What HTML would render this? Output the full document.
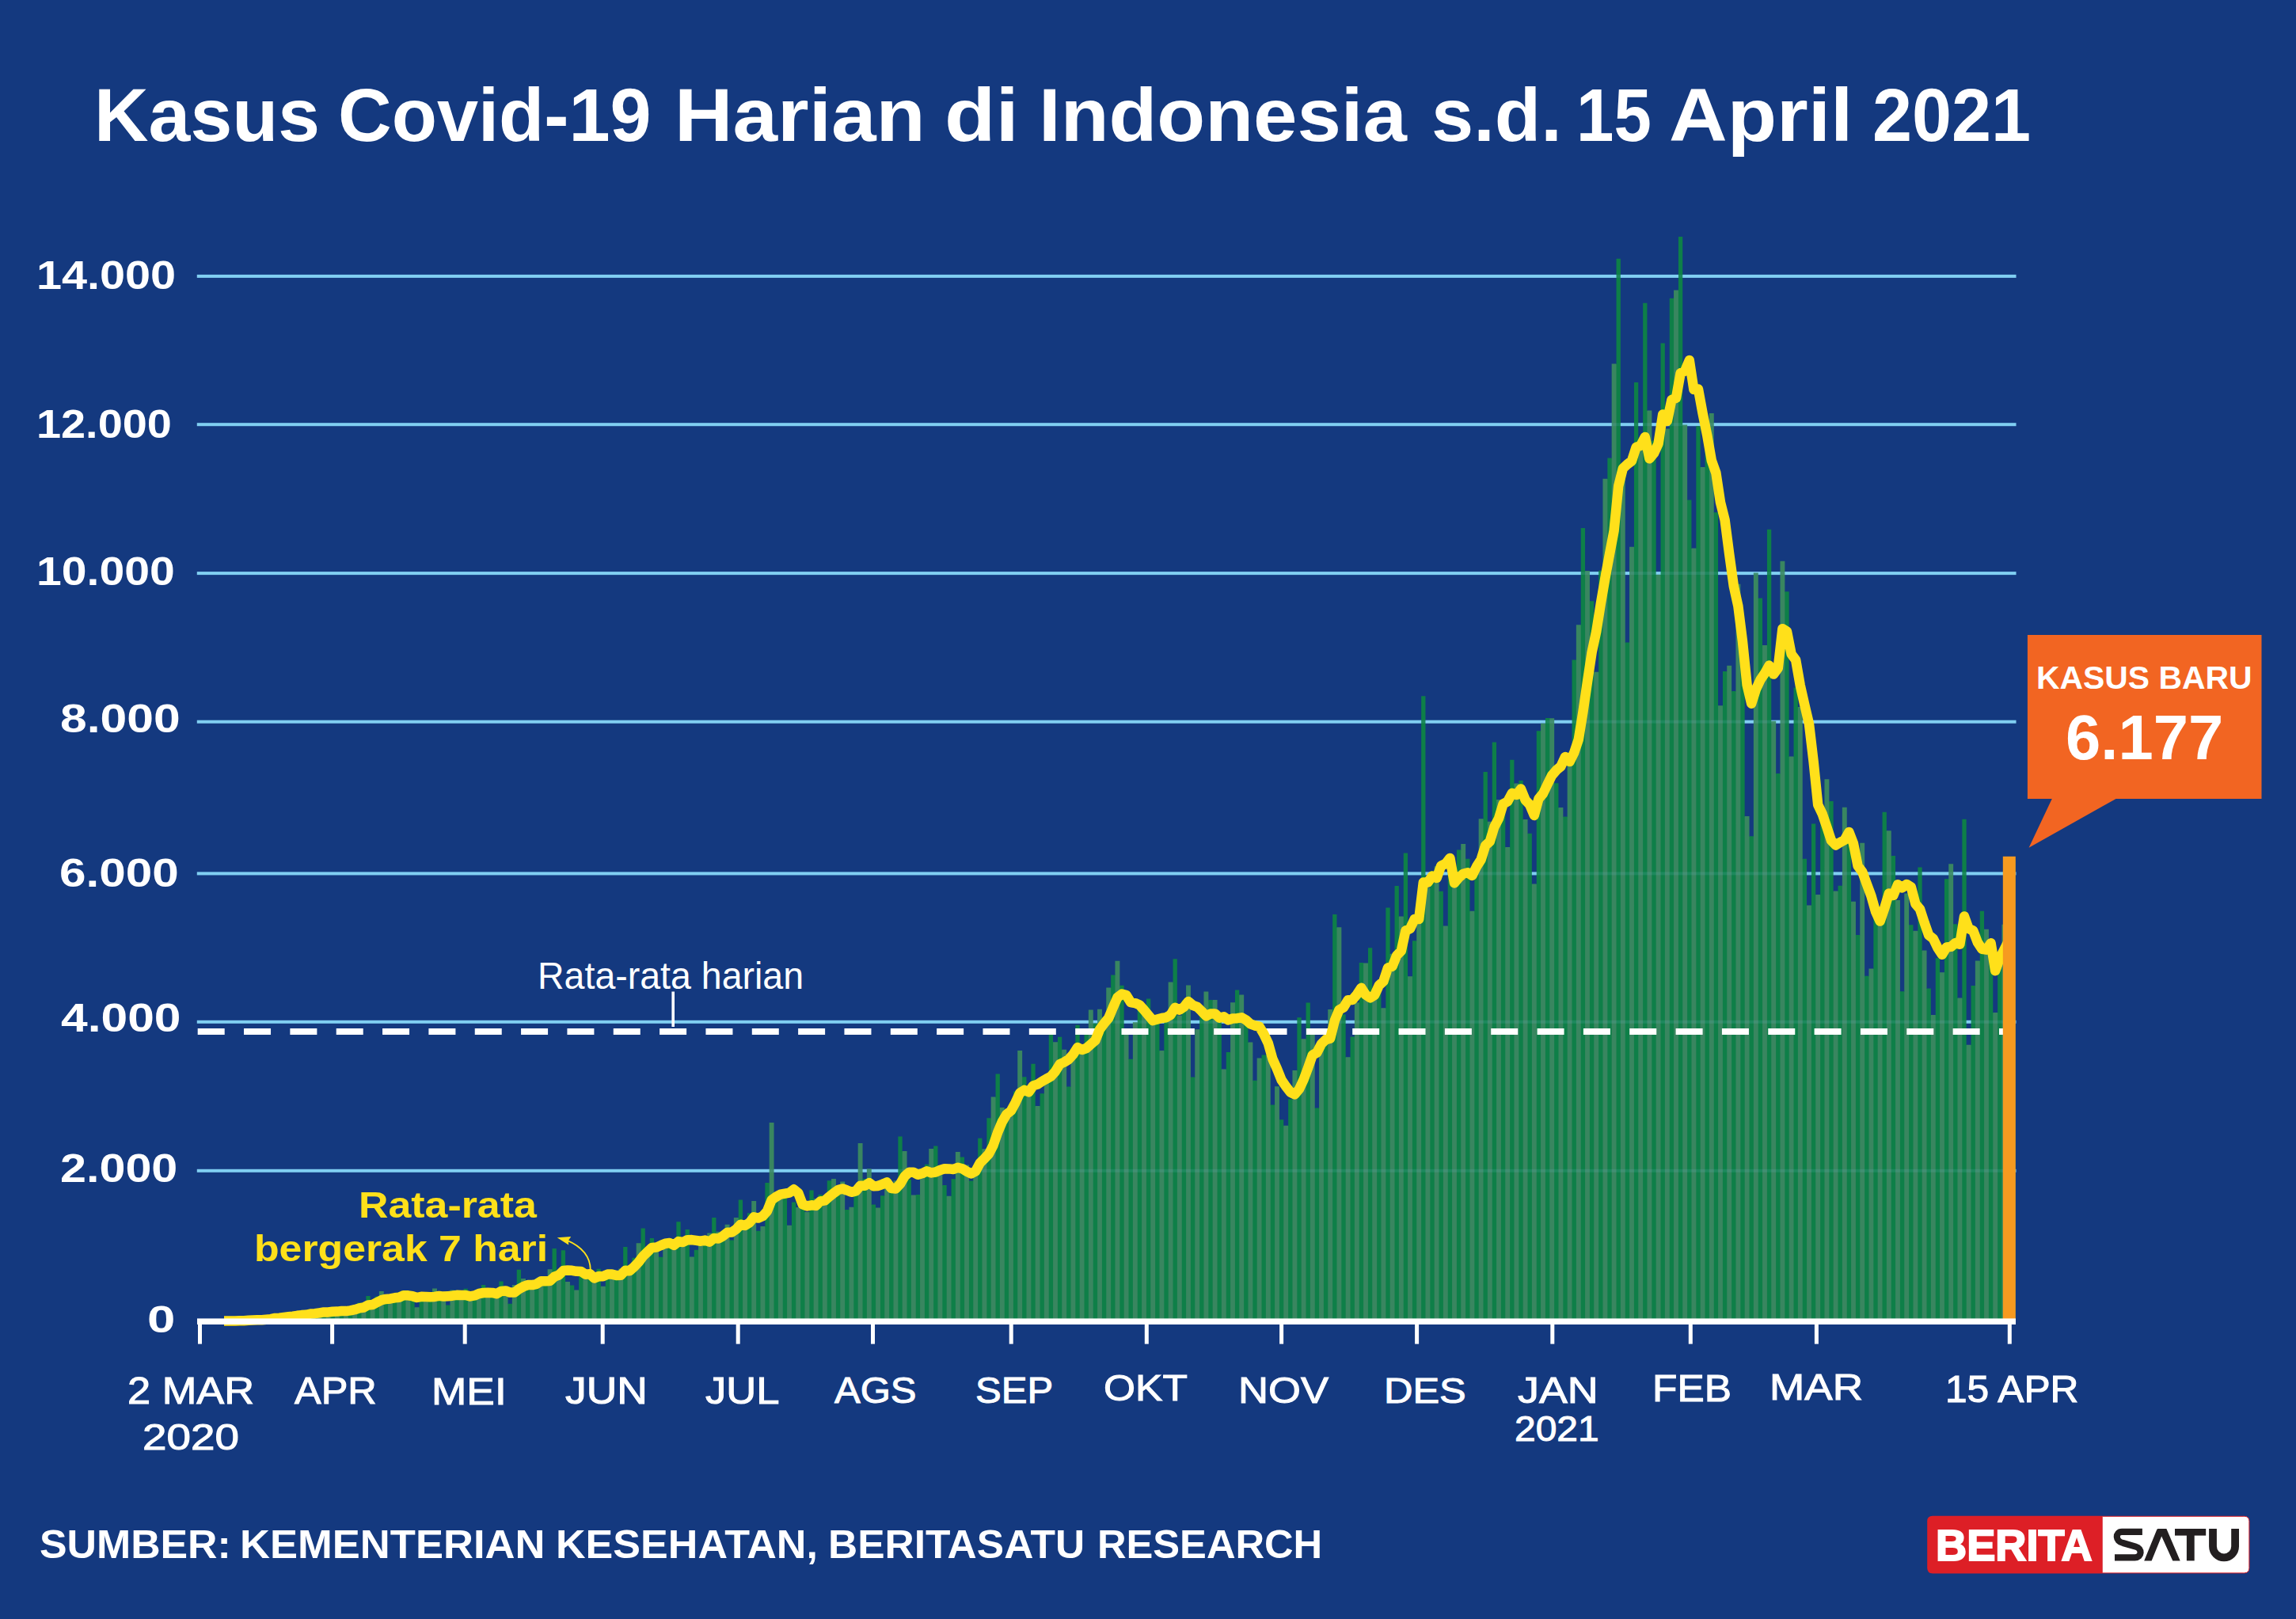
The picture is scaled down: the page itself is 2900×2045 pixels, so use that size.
<!DOCTYPE html>
<html><head><meta charset="utf-8"><style>
html,body{margin:0;padding:0}
body{width:2900px;height:2045px;background:#14397f;position:relative;overflow:hidden;font-family:"Liberation Sans",sans-serif}
.t{position:absolute;font-size:100px;line-height:1;white-space:pre;transform-origin:0 0;font-family:"Liberation Sans",sans-serif}
</style></head><body>
<svg width="2900" height="2045" style="position:absolute;left:0;top:0"><rect x="248.8" y="346.9" width="2297.7" height="4" fill="#80cff3"/><rect x="248.8" y="534.2" width="2297.7" height="4" fill="#80cff3"/><rect x="248.8" y="722.1" width="2297.7" height="4" fill="#80cff3"/><rect x="248.8" y="909.7" width="2297.7" height="4" fill="#80cff3"/><rect x="248.8" y="1101.4" width="2297.7" height="4" fill="#80cff3"/><rect x="248.8" y="1288.8" width="2297.7" height="4" fill="#80cff3"/><rect x="248.8" y="1476.8" width="2297.7" height="4" fill="#80cff3"/><path d="M293.35 1668.45h2V1669H293.35ZM315.75 1666.65h2V1669H315.75ZM321.05 1667.22h2V1669H321.05ZM326.95 1667.60h2V1669H326.95ZM332.25 1667.60h2V1669H332.25ZM338.15 1665.62h2V1669H338.15ZM343.45 1664.01h2V1669H343.45ZM349.35 1663.54h2V1669H349.35ZM354.65 1663.54h2V1669H354.65ZM360.55 1663.16h2V1669H360.55ZM365.85 1663.16h2V1669H365.85ZM371.75 1663.07h2V1669H371.75ZM377.05 1659.39h2V1669H377.05ZM382.95 1659.48h2V1669H382.95ZM388.25 1659.48h2V1669H388.25ZM394.15 1658.92h2V1669H394.15ZM399.45 1658.92h2V1669H399.45ZM405.35 1657.03h2V1669H405.35ZM410.65 1658.45h2V1669H410.65ZM416.55 1658.45h2V1669H416.55ZM421.85 1658.54h2V1669H421.85ZM427.75 1658.54h2V1669H427.75ZM433.05 1659.20h2V1669H433.05ZM438.95 1659.20h2V1669H438.95ZM444.25 1652.12h2V1669H444.25ZM450.15 1648.63h2V1669H450.15ZM455.45 1648.63h2V1669H455.45ZM461.35 1648.63h2V1669H461.35ZM466.65 1648.54h2V1669H466.65ZM472.55 1648.54h2V1669H472.55ZM477.85 1638.07h2V1669H477.85ZM483.75 1639.39h2V1669H483.75ZM489.05 1642.60h2V1669H489.05ZM494.95 1642.60h2V1669H494.95ZM500.25 1641.18h2V1669H500.25ZM506.15 1633.35h2V1669H506.15ZM511.45 1638.54h2V1669H511.45ZM517.35 1638.54h2V1669H517.35ZM522.65 1651.75h2V1669H522.65ZM528.55 1651.75h2V1669H528.55ZM533.85 1642.50h2V1669H533.85ZM539.75 1642.50h2V1669H539.75ZM545.05 1635.52h2V1669H545.05ZM550.95 1631.84h2V1669H550.95ZM556.25 1643.26h2V1669H556.25ZM562.15 1649.01h2V1669H562.15ZM567.45 1649.01h2V1669H567.45ZM573.35 1636.46h2V1669H573.35ZM578.65 1636.46h2V1669H578.65ZM584.55 1636.46h2V1669H584.55ZM589.85 1641.65h2V1669H589.85ZM595.75 1641.65h2V1669H595.75ZM601.05 1636.28h2V1669H601.05ZM606.95 1631.94h2V1669H606.95ZM612.25 1634.58h2V1669H612.25ZM618.15 1637.31h2V1669H618.15ZM623.45 1637.50h2V1669H623.45ZM629.35 1637.50h2V1669H629.35ZM634.65 1632.69h2V1669H634.65ZM640.55 1647.22h2V1669H640.55ZM645.85 1647.22h2V1669H645.85ZM651.75 1623.54h2V1669H651.75ZM657.05 1615.61h2V1669H657.05ZM662.95 1622.97h2V1669H662.95ZM668.25 1622.97h2V1669H668.25ZM674.15 1623.07h2V1669H674.15ZM679.45 1623.07h2V1669H679.45ZM685.35 1623.35h2V1669H685.35ZM690.65 1623.35h2V1669H690.65ZM696.55 1603.82h2V1669H696.55ZM701.85 1609.39h2V1669H701.85ZM707.75 1609.39h2V1669H707.75ZM713.05 1619.58h2V1669H713.05ZM718.95 1624.01h2V1669H718.95ZM724.25 1630.05h2V1669H724.25ZM730.15 1630.05h2V1669H730.15ZM735.45 1604.48h2V1669H735.45ZM741.35 1605.24h2V1669H741.35ZM746.65 1616.65h2V1669H746.65ZM752.55 1616.65h2V1669H752.55ZM757.85 1625.14h2V1669H757.85ZM763.75 1625.14h2V1669H763.75ZM769.05 1611.75h2V1669H769.05ZM774.95 1614.01h2V1669H774.95ZM780.25 1614.01h2V1669H780.25ZM786.15 1602.88h2V1669H786.15ZM791.45 1605.80h2V1669H791.45ZM797.35 1605.80h2V1669H797.35ZM802.65 1589.29h2V1669H802.65ZM808.55 1570.80h2V1669H808.55ZM813.85 1576.84h2V1669H813.85ZM819.75 1576.84h2V1669H819.75ZM825.05 1573.54h2V1669H825.05ZM830.95 1588.35h2V1669H830.95ZM836.25 1588.35h2V1669H836.25ZM842.15 1573.26h2V1669H842.15ZM847.45 1571.94h2V1669H847.45ZM853.35 1571.94h2V1669H853.35ZM858.65 1570.99h2V1669H858.65ZM864.55 1570.99h2V1669H864.55ZM869.85 1587.88h2V1669H869.85ZM875.75 1587.88h2V1669H875.75ZM881.05 1579.20h2V1669H881.05ZM886.95 1570.05h2V1669H886.95ZM892.25 1564.20h2V1669H892.25ZM898.15 1558.07h2V1669H898.15ZM903.45 1556.18h2V1669H903.45ZM909.35 1567.12h2V1669H909.35ZM914.65 1567.12h2V1669H914.65ZM920.55 1567.12h2V1669H920.55ZM925.85 1567.12h2V1669H925.85ZM931.75 1538.54h2V1669H931.75ZM937.05 1546.46h2V1669H937.05ZM942.95 1546.46h2V1669H942.95ZM948.25 1532.69h2V1669H948.25ZM954.15 1555.14h2V1669H954.15ZM959.45 1555.14h2V1669H959.45ZM965.35 1549.58h2V1669H965.35ZM970.65 1494.39h2V1669H970.65ZM976.55 1517.22h2V1669H976.55ZM981.85 1517.22h2V1669H981.85ZM987.75 1511.56h2V1669H987.75ZM993.05 1548.26h2V1669H993.05ZM998.95 1548.26h2V1669H998.95ZM1004.25 1525.61h2V1669H1004.25ZM1010.15 1525.61h2V1669H1010.15ZM1015.45 1531.27h2V1669H1015.45ZM1021.35 1531.27h2V1669H1021.35ZM1026.65 1514.58h2V1669H1026.65ZM1032.55 1514.58h2V1669H1032.55ZM1037.85 1513.07h2V1669H1037.85ZM1043.75 1513.07h2V1669H1043.75ZM1049.05 1491.65h2V1669H1049.05ZM1054.95 1503.07h2V1669H1054.95ZM1060.25 1503.07h2V1669H1060.25ZM1066.15 1528.44h2V1669H1066.15ZM1071.45 1528.44h2V1669H1071.45ZM1077.35 1525.33h2V1669H1077.35ZM1082.65 1504.29h2V1669H1082.65ZM1088.55 1489.58h2V1669H1088.55ZM1093.85 1489.58h2V1669H1093.85ZM1099.75 1522.03h2V1669H1099.75ZM1105.05 1525.90h2V1669H1105.05ZM1110.95 1525.90h2V1669H1110.95ZM1116.25 1510.80h2V1669H1116.25ZM1122.15 1497.97h2V1669H1122.15ZM1127.45 1497.97h2V1669H1127.45ZM1133.35 1491.65h2V1669H1133.35ZM1138.65 1454.39h2V1669H1138.65ZM1144.55 1490.61h2V1669H1144.55ZM1149.85 1510.05h2V1669H1149.85ZM1155.75 1510.05h2V1669H1155.75ZM1161.05 1509.48h2V1669H1161.05ZM1166.95 1485.99h2V1669H1166.95ZM1172.25 1471.27h2V1669H1172.25ZM1178.15 1451.56h2V1669H1178.15ZM1183.45 1472.88h2V1669H1183.45ZM1189.35 1497.41h2V1669H1189.35ZM1194.65 1511.37h2V1669H1194.65ZM1200.55 1511.37h2V1669H1200.55ZM1205.85 1489.77h2V1669H1205.85ZM1211.75 1461.94h2V1669H1211.75ZM1217.05 1472.03h2V1669H1217.05ZM1222.95 1492.12h2V1669H1222.95ZM1228.25 1492.12h2V1669H1228.25ZM1234.15 1477.03h2V1669H1234.15ZM1239.45 1451.65h2V1669H1239.45ZM1245.35 1451.65h2V1669H1245.35ZM1250.65 1412.69h2V1669H1250.65ZM1256.55 1385.90h2V1669H1256.55ZM1261.85 1399.58h2V1669H1261.85ZM1267.75 1410.43h2V1669H1267.75ZM1273.05 1410.43h2V1669H1273.05ZM1278.95 1407.41h2V1669H1278.95ZM1284.25 1379.10h2V1669H1284.25ZM1290.15 1360.80h2V1669H1290.15ZM1295.45 1374.10h2V1669H1295.45ZM1301.35 1374.10h2V1669H1301.35ZM1306.65 1397.50h2V1669H1306.65ZM1312.55 1397.50h2V1669H1312.55ZM1317.85 1381.84h2V1669H1317.85ZM1323.75 1357.22h2V1669H1323.75ZM1329.05 1316.65h2V1669H1329.05ZM1334.95 1316.65h2V1669H1334.95ZM1340.25 1326.18h2V1669H1340.25ZM1346.15 1372.88h2V1669H1346.15ZM1351.45 1372.88h2V1669H1351.45ZM1357.35 1338.35h2V1669H1357.35ZM1362.65 1326.27h2V1669H1362.65ZM1368.55 1326.27h2V1669H1368.55ZM1373.85 1302.12h2V1669H1373.85ZM1379.75 1292.88h2V1669H1379.75ZM1385.05 1292.88h2V1669H1385.05ZM1390.95 1285.14h2V1669H1390.95ZM1396.25 1285.14h2V1669H1396.25ZM1402.15 1247.97h2V1669H1402.15ZM1407.45 1232.03h2V1669H1407.45ZM1413.35 1245.24h2V1669H1413.35ZM1418.65 1303.73h2V1669H1418.65ZM1424.55 1338.16h2V1669H1424.55ZM1429.85 1338.16h2V1669H1429.85ZM1435.75 1291.65h2V1669H1435.75ZM1441.05 1275.42h2V1669H1441.05ZM1446.95 1275.42h2V1669H1446.95ZM1452.25 1291.18h2V1669H1452.25ZM1458.15 1292.59h2V1669H1458.15ZM1463.45 1327.50h2V1669H1463.45ZM1469.35 1327.50h2V1669H1469.35ZM1474.65 1286.56h2V1669H1474.65ZM1480.55 1241.09h2V1669H1480.55ZM1485.85 1282.97h2V1669H1485.85ZM1491.75 1282.97h2V1669H1491.75ZM1497.05 1264.10h2V1669H1497.05ZM1502.95 1360.99h2V1669H1502.95ZM1508.25 1360.99h2V1669H1508.25ZM1514.15 1300.71h2V1669H1514.15ZM1519.45 1279.86h2V1669H1519.45ZM1525.35 1263.44h2V1669H1525.35ZM1530.65 1263.44h2V1669H1530.65ZM1536.55 1281.93h2V1669H1536.55ZM1541.85 1350.99h2V1669H1541.85ZM1547.75 1350.99h2V1669H1547.75ZM1553.05 1329.39h2V1669H1553.05ZM1558.95 1266.65h2V1669H1558.95ZM1564.25 1257.03h2V1669H1564.25ZM1570.15 1285.24h2V1669H1570.15ZM1575.45 1317.12h2V1669H1575.45ZM1581.35 1365.24h2V1669H1581.35ZM1586.65 1365.24h2V1669H1586.65ZM1592.55 1337.12h2V1669H1592.55ZM1597.85 1333.35h2V1669H1597.85ZM1603.75 1395.90h2V1669H1603.75ZM1609.05 1395.90h2V1669H1609.05ZM1614.95 1414.86h2V1669H1614.95ZM1620.25 1422.22h2V1669H1620.25ZM1626.15 1422.22h2V1669H1626.15ZM1631.45 1388.73h2V1669H1631.45ZM1637.35 1352.59h2V1669H1637.35ZM1642.65 1312.78h2V1669H1642.65ZM1648.55 1312.78h2V1669H1648.55ZM1653.85 1303.16h2V1669H1653.85ZM1659.75 1400.05h2V1669H1659.75ZM1665.05 1400.05h2V1669H1665.05ZM1670.95 1313.54h2V1669H1670.95ZM1676.25 1313.54h2V1669H1676.25ZM1682.15 1275.52h2V1669H1682.15ZM1687.45 1171.84h2V1669H1687.45ZM1693.35 1281.84h2V1669H1693.35ZM1698.65 1335.71h2V1669H1698.65ZM1704.55 1335.71h2V1669H1704.55ZM1709.85 1310.05h2V1669H1709.85ZM1715.75 1266.84h2V1669H1715.75ZM1721.05 1217.12h2V1669H1721.05ZM1726.95 1217.12h2V1669H1726.95ZM1732.25 1257.88h2V1669H1732.25ZM1738.15 1257.88h2V1669H1738.15ZM1743.45 1273.73h2V1669H1743.45ZM1749.35 1273.73h2V1669H1749.35ZM1754.65 1205.33h2V1669H1754.65ZM1760.55 1205.33h2V1669H1760.55ZM1765.85 1158.07h2V1669H1765.85ZM1771.75 1158.07h2V1669H1771.75ZM1777.05 1233.63h2V1669H1777.05ZM1782.95 1233.63h2V1669H1782.95ZM1788.25 1188.82h2V1669H1788.25ZM1794.15 1147.22h2V1669H1794.15ZM1799.45 1121.74h2V1669H1799.45ZM1805.35 1121.74h2V1669H1805.35ZM1810.65 1100.61h2V1669H1810.65ZM1816.55 1126.37h2V1669H1816.55ZM1821.85 1169.95h2V1669H1821.85ZM1827.75 1169.95h2V1669H1827.75ZM1833.05 1100.05h2V1669H1833.05ZM1838.95 1100.05h2V1669H1838.95ZM1844.25 1073.91h2V1669H1844.25ZM1850.15 1085.33h2V1669H1850.15ZM1855.45 1151.37h2V1669H1855.45ZM1861.35 1151.37h2V1669H1861.35ZM1866.65 1091.84h2V1669H1866.65ZM1872.55 1034.76h2V1669H1872.55ZM1877.85 1038.16h2V1669H1877.85ZM1883.75 1038.16h2V1669H1883.75ZM1889.05 1010.52h2V1669H1889.05ZM1894.95 1023.16h2V1669H1894.95ZM1900.25 1070.42h2V1669H1900.25ZM1906.15 1070.42h2V1669H1906.15ZM1911.45 990.05h2V1669H1911.45ZM1917.35 990.05h2V1669H1917.35ZM1922.65 1035.42h2V1669H1922.65ZM1928.55 1053.35h2V1669H1928.55ZM1933.85 1116.93h2V1669H1933.85ZM1939.75 1116.93h2V1669H1939.75ZM1945.05 923.63h2V1669H1945.05ZM1950.95 914.29h2V1669H1950.95ZM1956.25 907.69h2V1669H1956.25ZM1962.15 989.67h2V1669H1962.15ZM1967.45 1020.42h2V1669H1967.45ZM1973.35 1032.12h2V1669H1973.35ZM1978.65 1032.12h2V1669H1978.65ZM1984.55 966.84h2V1669H1984.55ZM1989.85 833.91h2V1669H1989.85ZM1995.75 789.86h2V1669H1995.75ZM2001.05 721.46h2V1669H2001.05ZM2006.95 759.76h2V1669H2006.95ZM2012.25 849.20h2V1669H2012.25ZM2018.15 849.20h2V1669H2018.15ZM2023.45 721.37h2V1669H2023.45ZM2029.35 605.23h2V1669H2029.35ZM2034.65 578.91h2V1669H2034.65ZM2040.55 459.95h2V1669H2040.55ZM2045.85 604.38h2V1669H2045.85ZM2051.75 812.03h2V1669H2051.75ZM2057.05 812.03h2V1669H2057.05ZM2062.95 691.37h2V1669H2062.95ZM2068.25 565.14h2V1669H2068.25ZM2074.15 565.14h2V1669H2074.15ZM2079.45 519.10h2V1669H2079.45ZM2085.35 557.12h2V1669H2085.35ZM2090.65 726.37h2V1669H2090.65ZM2096.55 726.37h2V1669H2096.55ZM2101.85 542.03h2V1669H2101.85ZM2107.75 542.03h2V1669H2107.75ZM2113.05 377.21h2V1669H2113.05ZM2118.95 367.12h2V1669H2118.95ZM2124.25 537.03h2V1669H2124.25ZM2130.15 632.03h2V1669H2130.15ZM2135.45 693.06h2V1669H2135.45ZM2141.35 693.06h2V1669H2141.35ZM2146.65 590.52h2V1669H2146.65ZM2152.55 590.52h2V1669H2152.55ZM2157.85 560.80h2V1669H2157.85ZM2163.75 647.78h2V1669H2163.75ZM2169.05 891.65h2V1669H2169.05ZM2174.95 891.65h2V1669H2174.95ZM2180.25 848.44h2V1669H2180.25ZM2186.15 873.44h2V1669H2186.15ZM2191.45 873.44h2V1669H2191.45ZM2197.35 834.86h2V1669H2197.35ZM2202.65 1031.46h2V1669H2202.65ZM2208.55 1056.84h2V1669H2208.55ZM2213.85 1056.84h2V1669H2213.85ZM2219.75 755.99h2V1669H2219.75ZM2225.05 815.42h2V1669H2225.05ZM2230.95 815.42h2V1669H2230.95ZM2236.25 911.37h2V1669H2236.25ZM2242.15 977.40h2V1669H2242.15ZM2247.45 977.40h2V1669H2247.45ZM2253.35 747.78h2V1669H2253.35ZM2258.65 955.90h2V1669H2258.65ZM2264.55 955.90h2V1669H2264.55ZM2269.85 893.54h2V1669H2269.85ZM2275.75 1085.24h2V1669H2275.75ZM2281.05 1144.10h2V1669H2281.05ZM2286.95 1144.10h2V1669H2286.95ZM2292.25 1130.42h2V1669H2292.25ZM2298.15 1130.42h2V1669H2298.15ZM2303.45 1037.12h2V1669H2303.45ZM2309.35 1012.40h2V1669H2309.35ZM2314.65 1125.90h2V1669H2314.65ZM2320.55 1125.90h2V1669H2320.55ZM2325.85 1119.29h2V1669H2325.85ZM2331.75 1060.71h2V1669H2331.75ZM2337.05 1139.20h2V1669H2337.05ZM2342.95 1181.46h2V1669H2342.95ZM2348.25 1181.46h2V1669H2348.25ZM2354.15 1233.16h2V1669H2354.15ZM2359.45 1233.16h2V1669H2359.45ZM2365.35 1224.01h2V1669H2365.35ZM2370.65 1159.76h2V1669H2370.65ZM2376.55 1145.61h2V1669H2376.55ZM2381.85 1049.86h2V1669H2381.85ZM2387.75 1081.46h2V1669H2387.75ZM2393.05 1137.50h2V1669H2393.05ZM2398.95 1252.69h2V1669H2398.95ZM2404.25 1252.69h2V1669H2404.25ZM2410.15 1168.63h2V1669H2410.15ZM2415.45 1176.27h2V1669H2415.45ZM2421.35 1176.27h2V1669H2421.35ZM2426.65 1201.08h2V1669H2426.65ZM2432.55 1249.01h2V1669H2432.55ZM2437.85 1282.59h2V1669H2437.85ZM2443.75 1282.59h2V1669H2443.75ZM2449.05 1228.73h2V1669H2449.05ZM2454.95 1228.73h2V1669H2454.95ZM2460.25 1110.71h2V1669H2460.25ZM2466.15 1167.69h2V1669H2466.15ZM2471.45 1260.90h2V1669H2471.45ZM2477.35 1260.90h2V1669H2477.35ZM2482.65 1320.14h2V1669H2482.65ZM2488.55 1320.14h2V1669H2488.55ZM2493.85 1245.52h2V1669H2493.85ZM2499.75 1214.10h2V1669H2499.75ZM2505.05 1174.20h2V1669H2505.05ZM2510.95 1202.22h2V1669H2510.95ZM2516.25 1279.58h2V1669H2516.25ZM2522.15 1279.58h2V1669H2522.15ZM2527.45 1211.65h2V1669H2527.45ZM2533.35 1168.25h2V1669H2533.35ZM2538.65 1135.61h2V1669H2538.65Z" fill="#398660"/><path d="M254.85 1668.70h5.90V1669H254.85ZM266.05 1668.70h5.90V1669H266.05ZM277.25 1668.70h5.90V1669H277.25ZM288.45 1667.47h5.90V1669H288.45ZM299.65 1668.04h5.90V1669H299.65ZM310.85 1665.40h5.90V1669H310.85ZM322.05 1666.72h5.90V1669H322.05ZM333.25 1665.12h5.90V1669H333.25ZM344.45 1660.96h5.90V1669H344.45ZM355.65 1661.06h5.90V1669H355.65ZM366.85 1662.57h5.90V1669H366.85ZM378.05 1658.89h5.90V1669H378.05ZM389.25 1654.27h5.90V1669H389.25ZM400.45 1656.44h5.90V1669H400.45ZM411.65 1657.95h5.90V1669H411.65ZM422.85 1658.04h5.90V1669H422.85ZM434.05 1658.70h5.90V1669H434.05ZM445.25 1648.13h5.90V1669H445.25ZM456.45 1648.13h5.90V1669H456.45ZM467.65 1648.04h5.90V1669H467.65ZM478.85 1631.06h5.90V1669H478.85ZM490.05 1642.10h5.90V1669H490.05ZM501.25 1632.85h5.90V1669H501.25ZM512.45 1638.04h5.90V1669H512.45ZM523.65 1651.25h5.90V1669H523.65ZM534.85 1642.00h5.90V1669H534.85ZM546.05 1627.57h5.90V1669H546.05ZM557.25 1642.76h5.90V1669H557.25ZM568.45 1629.55h5.90V1669H568.45ZM579.65 1635.96h5.90V1669H579.65ZM590.85 1641.15h5.90V1669H590.85ZM602.05 1631.44h5.90V1669H602.05ZM613.25 1634.08h5.90V1669H613.25ZM624.45 1637.00h5.90V1669H624.45ZM635.65 1632.19h5.90V1669H635.65ZM646.85 1623.04h5.90V1669H646.85ZM658.05 1615.11h5.90V1669H658.05ZM669.25 1618.79h5.90V1669H669.25ZM680.45 1621.91h5.90V1669H680.45ZM691.65 1603.32h5.90V1669H691.65ZM702.85 1608.89h5.90V1669H702.85ZM714.05 1619.08h5.90V1669H714.05ZM725.25 1629.55h5.90V1669H725.25ZM736.45 1603.89h5.90V1669H736.45ZM747.65 1616.15h5.90V1669H747.65ZM758.85 1624.64h5.90V1669H758.85ZM770.05 1604.17h5.90V1669H770.05ZM781.25 1602.38h5.90V1669H781.25ZM792.45 1605.30h5.90V1669H792.45ZM803.65 1570.30h5.90V1669H803.65ZM814.85 1576.34h5.90V1669H814.85ZM826.05 1573.04h5.90V1669H826.05ZM837.25 1572.76h5.90V1669H837.25ZM848.45 1571.44h5.90V1669H848.45ZM859.65 1570.49h5.90V1669H859.65ZM870.85 1587.38h5.90V1669H870.85ZM882.05 1569.55h5.90V1669H882.05ZM893.25 1557.57h5.90V1669H893.25ZM904.45 1555.68h5.90V1669H904.45ZM915.65 1546.72h5.90V1669H915.65ZM926.85 1538.04h5.90V1669H926.85ZM938.05 1545.96h5.90V1669H938.05ZM949.25 1517.10h5.90V1669H949.25ZM960.45 1549.08h5.90V1669H960.45ZM971.65 1418.04h5.90V1669H971.65ZM982.85 1511.06h5.90V1669H982.85ZM994.05 1547.76h5.90V1669H994.05ZM1005.25 1525.11h5.90V1669H1005.25ZM1016.45 1530.77h5.90V1669H1016.45ZM1027.65 1514.08h5.90V1669H1027.65ZM1038.85 1512.57h5.90V1669H1038.85ZM1050.05 1488.89h5.90V1669H1050.05ZM1061.25 1492.47h5.90V1669H1061.25ZM1072.45 1524.83h5.90V1669H1072.45ZM1083.65 1444.08h5.90V1669H1083.65ZM1094.85 1476.25h5.90V1669H1094.85ZM1106.05 1525.40h5.90V1669H1106.05ZM1117.25 1487.38h5.90V1669H1117.25ZM1128.45 1491.15h5.90V1669H1128.45ZM1139.65 1453.89h5.90V1669H1139.65ZM1150.85 1509.55h5.90V1669H1150.85ZM1162.05 1485.49h5.90V1669H1162.05ZM1173.25 1451.06h5.90V1669H1173.25ZM1184.45 1472.38h5.90V1669H1184.45ZM1195.65 1510.87h5.90V1669H1195.65ZM1206.85 1454.93h5.90V1669H1206.85ZM1218.05 1471.53h5.90V1669H1218.05ZM1229.25 1476.53h5.90V1669H1229.25ZM1240.45 1451.15h5.90V1669H1240.45ZM1251.65 1385.40h5.90V1669H1251.65ZM1262.85 1399.08h5.90V1669H1262.85ZM1274.05 1406.91h5.90V1669H1274.05ZM1285.25 1327.00h5.90V1669H1285.25ZM1296.45 1373.60h5.90V1669H1296.45ZM1307.65 1397.00h5.90V1669H1307.65ZM1318.85 1356.72h5.90V1669H1318.85ZM1330.05 1316.15h5.90V1669H1330.05ZM1341.25 1325.68h5.90V1669H1341.25ZM1352.45 1337.85h5.90V1669H1352.45ZM1363.65 1325.77h5.90V1669H1363.65ZM1374.85 1275.49h5.90V1669H1374.85ZM1386.05 1274.74h5.90V1669H1386.05ZM1397.25 1247.47h5.90V1669H1397.25ZM1408.45 1213.70h5.90V1669H1408.45ZM1419.65 1303.23h5.90V1669H1419.65ZM1430.85 1291.15h5.90V1669H1430.85ZM1442.05 1274.92h5.90V1669H1442.05ZM1453.25 1290.68h5.90V1669H1453.25ZM1464.45 1327.00h5.90V1669H1464.45ZM1475.65 1240.59h5.90V1669H1475.65ZM1486.85 1282.47h5.90V1669H1486.85ZM1498.05 1244.45h5.90V1669H1498.05ZM1509.25 1300.21h5.90V1669H1509.25ZM1520.45 1252.57h5.90V1669H1520.45ZM1531.65 1262.94h5.90V1669H1531.65ZM1542.85 1350.49h5.90V1669H1542.85ZM1554.05 1266.15h5.90V1669H1554.05ZM1565.25 1256.53h5.90V1669H1565.25ZM1576.45 1316.62h5.90V1669H1576.45ZM1587.65 1336.62h5.90V1669H1587.65ZM1598.85 1332.85h5.90V1669H1598.85ZM1610.05 1372.19h5.90V1669H1610.05ZM1621.25 1421.72h5.90V1669H1621.25ZM1632.45 1352.09h5.90V1669H1632.45ZM1643.65 1312.28h5.90V1669H1643.65ZM1654.85 1302.66h5.90V1669H1654.85ZM1666.05 1312.19h5.90V1669H1666.05ZM1677.25 1275.02h5.90V1669H1677.25ZM1688.45 1171.34h5.90V1669H1688.45ZM1699.65 1335.21h5.90V1669H1699.65ZM1710.85 1266.34h5.90V1669H1710.85ZM1722.05 1216.62h5.90V1669H1722.05ZM1733.25 1257.38h5.90V1669H1733.25ZM1744.45 1273.23h5.90V1669H1744.45ZM1755.65 1204.83h5.90V1669H1755.65ZM1766.85 1157.57h5.90V1669H1766.85ZM1778.05 1233.13h5.90V1669H1778.05ZM1789.25 1146.72h5.90V1669H1789.25ZM1800.45 1121.24h5.90V1669H1800.45ZM1811.65 1094.26h5.90V1669H1811.65ZM1822.85 1169.45h5.90V1669H1822.85ZM1834.05 1099.55h5.90V1669H1834.05ZM1845.25 1066.06h5.90V1669H1845.25ZM1856.45 1150.87h5.90V1669H1856.45ZM1867.65 1034.26h5.90V1669H1867.65ZM1878.85 1037.66h5.90V1669H1878.85ZM1890.05 1010.02h5.90V1669H1890.05ZM1901.25 1069.92h5.90V1669H1901.25ZM1912.45 989.55h5.90V1669H1912.45ZM1923.65 1034.92h5.90V1669H1923.65ZM1934.85 1116.43h5.90V1669H1934.85ZM1946.05 913.79h5.90V1669H1946.05ZM1957.25 907.19h5.90V1669H1957.25ZM1968.45 1019.92h5.90V1669H1968.45ZM1979.65 966.34h5.90V1669H1979.65ZM1990.85 789.36h5.90V1669H1990.85ZM2002.05 720.96h5.90V1669H2002.05ZM2013.25 848.70h5.90V1669H2013.25ZM2024.45 604.73h5.90V1669H2024.45ZM2035.65 459.45h5.90V1669H2035.65ZM2046.85 603.88h5.90V1669H2046.85ZM2058.05 690.87h5.90V1669H2058.05ZM2069.25 564.64h5.90V1669H2069.25ZM2080.45 518.60h5.90V1669H2080.45ZM2091.65 725.87h5.90V1669H2091.65ZM2102.85 541.53h5.90V1669H2102.85ZM2114.05 366.62h5.90V1669H2114.05ZM2125.25 536.53h5.90V1669H2125.25ZM2136.45 692.56h5.90V1669H2136.45ZM2147.65 590.02h5.90V1669H2147.65ZM2158.85 521.90h5.90V1669H2158.85ZM2170.05 891.15h5.90V1669H2170.05ZM2181.25 840.77h5.90V1669H2181.25ZM2192.45 737.66h5.90V1669H2192.45ZM2203.65 1030.96h5.90V1669H2203.65ZM2214.85 723.60h5.90V1669H2214.85ZM2226.05 814.92h5.90V1669H2226.05ZM2237.25 910.87h5.90V1669H2237.25ZM2248.45 708.79h5.90V1669H2248.45ZM2259.65 955.40h5.90V1669H2259.65ZM2270.85 893.04h5.90V1669H2270.85ZM2282.05 1143.60h5.90V1669H2282.05ZM2293.25 1129.92h5.90V1669H2293.25ZM2304.45 984.36h5.90V1669H2304.45ZM2315.65 1125.40h5.90V1669H2315.65ZM2326.85 1019.64h5.90V1669H2326.85ZM2338.05 1138.70h5.90V1669H2338.05ZM2349.25 1064.74h5.90V1669H2349.25ZM2360.45 1223.51h5.90V1669H2360.45ZM2371.65 1145.11h5.90V1669H2371.65ZM2382.85 1049.36h5.90V1669H2382.85ZM2394.05 1137.00h5.90V1669H2394.05ZM2405.25 1128.60h5.90V1669H2405.25ZM2416.45 1175.77h5.90V1669H2416.45ZM2427.65 1200.58h5.90V1669H2427.65ZM2438.85 1282.09h5.90V1669H2438.85ZM2450.05 1228.23h5.90V1669H2450.05ZM2461.25 1091.34h5.90V1669H2461.25ZM2472.45 1260.40h5.90V1669H2472.45ZM2483.65 1319.64h5.90V1669H2483.65ZM2494.85 1213.60h5.90V1669H2494.85ZM2506.05 1173.70h5.90V1669H2506.05ZM2517.25 1279.08h5.90V1669H2517.25ZM2528.45 1167.75h5.90V1669H2528.45ZM2539.65 1085.96h5.90V1669H2539.65Z" fill="#398660"/><path d="M249.55 1668.51h5.30V1669H249.55ZM260.75 1668.70h5.30V1669H260.75ZM271.95 1668.51h5.30V1669H271.95ZM283.15 1668.51h5.30V1669H283.15ZM294.35 1667.95h5.30V1669H294.35ZM305.55 1668.70h5.30V1669H305.55ZM316.75 1666.15h5.30V1669H316.75ZM327.95 1667.10h5.30V1669H327.95ZM339.15 1663.51h5.30V1669H339.15ZM350.35 1663.04h5.30V1669H350.35ZM361.55 1662.66h5.30V1669H361.55ZM372.75 1658.61h5.30V1669H372.75ZM383.95 1658.98h5.30V1669H383.95ZM395.15 1658.42h5.30V1669H395.15ZM406.35 1656.53h5.30V1669H406.35ZM417.55 1654.64h5.30V1669H417.55ZM428.75 1650.21h5.30V1669H428.75ZM439.95 1651.62h5.30V1669H439.95ZM451.15 1645.40h5.30V1669H451.15ZM462.35 1636.91h5.30V1669H462.35ZM473.55 1637.57h5.30V1669H473.55ZM484.75 1638.89h5.30V1669H484.75ZM495.95 1640.68h5.30V1669H495.95ZM507.15 1630.30h5.30V1669H507.15ZM518.35 1637.85h5.30V1669H518.35ZM529.55 1633.32h5.30V1669H529.55ZM540.75 1635.02h5.30V1669H540.75ZM551.95 1631.34h5.30V1669H551.95ZM563.15 1648.51h5.30V1669H563.15ZM574.35 1635.96h5.30V1669H574.35ZM585.55 1627.85h5.30V1669H585.55ZM596.75 1635.78h5.30V1669H596.75ZM607.95 1623.04h5.30V1669H607.95ZM619.15 1636.81h5.30V1669H619.15ZM630.35 1618.42h5.30V1669H630.35ZM641.55 1646.72h5.30V1669H641.55ZM652.75 1603.70h5.30V1669H652.75ZM663.95 1622.47h5.30V1669H663.95ZM675.15 1622.57h5.30V1669H675.15ZM686.35 1622.85h5.30V1669H686.35ZM697.55 1576.91h5.30V1669H697.55ZM708.75 1579.17h5.30V1669H708.75ZM719.95 1623.51h5.30V1669H719.95ZM731.15 1603.98h5.30V1669H731.15ZM742.35 1604.74h5.30V1669H742.35ZM753.55 1602.66h5.30V1669H753.55ZM764.75 1611.25h5.30V1669H764.75ZM775.95 1613.51h5.30V1669H775.95ZM787.15 1575.02h5.30V1669H787.15ZM798.35 1588.79h5.30V1669H798.35ZM809.55 1551.62h5.30V1669H809.55ZM820.75 1563.89h5.30V1669H820.75ZM831.95 1587.85h5.30V1669H831.95ZM843.15 1564.36h5.30V1669H843.15ZM854.35 1543.13h5.30V1669H854.35ZM865.55 1553.04h5.30V1669H865.55ZM876.75 1578.70h5.30V1669H876.75ZM887.95 1563.70h5.30V1669H887.95ZM899.15 1538.04h5.30V1669H899.15ZM910.35 1566.62h5.30V1669H910.35ZM921.55 1566.62h5.30V1669H921.55ZM932.75 1515.49h5.30V1669H932.75ZM943.95 1532.19h5.30V1669H943.95ZM955.15 1554.64h5.30V1669H955.15ZM966.35 1493.89h5.30V1669H966.35ZM977.55 1516.72h5.30V1669H977.55ZM988.75 1510.11h5.30V1669H988.75ZM999.95 1518.61h5.30V1669H999.95ZM1011.15 1520.21h5.30V1669H1011.15ZM1022.35 1503.42h5.30V1669H1022.35ZM1033.55 1508.98h5.30V1669H1033.55ZM1044.75 1491.15h5.30V1669H1044.75ZM1055.95 1502.57h5.30V1669H1055.95ZM1067.15 1527.94h5.30V1669H1067.15ZM1078.35 1503.79h5.30V1669H1078.35ZM1089.55 1489.08h5.30V1669H1089.55ZM1100.75 1521.53h5.30V1669H1100.75ZM1111.95 1510.30h5.30V1669H1111.95ZM1123.15 1497.47h5.30V1669H1123.15ZM1134.35 1435.40h5.30V1669H1134.35ZM1145.55 1490.11h5.30V1669H1145.55ZM1156.75 1508.98h5.30V1669H1156.75ZM1167.95 1470.77h5.30V1669H1167.95ZM1179.15 1447.47h5.30V1669H1179.15ZM1190.35 1496.91h5.30V1669H1190.35ZM1201.55 1489.27h5.30V1669H1201.55ZM1212.75 1461.44h5.30V1669H1212.75ZM1223.95 1491.62h5.30V1669H1223.95ZM1235.15 1437.85h5.30V1669H1235.15ZM1246.35 1412.19h5.30V1669H1246.35ZM1257.55 1356.62h5.30V1669H1257.55ZM1268.75 1409.93h5.30V1669H1268.75ZM1279.95 1378.60h5.30V1669H1279.95ZM1291.15 1360.30h5.30V1669H1291.15ZM1302.35 1343.79h5.30V1669H1302.35ZM1313.55 1381.34h5.30V1669H1313.55ZM1324.75 1304.45h5.30V1669H1324.75ZM1335.95 1309.64h5.30V1669H1335.95ZM1347.15 1372.38h5.30V1669H1347.15ZM1358.35 1294.83h5.30V1669H1358.35ZM1369.55 1301.62h5.30V1669H1369.55ZM1380.75 1292.38h5.30V1669H1380.75ZM1391.95 1284.64h5.30V1669H1391.95ZM1403.15 1231.53h5.30V1669H1403.15ZM1414.35 1244.74h5.30V1669H1414.35ZM1425.55 1337.66h5.30V1669H1425.55ZM1436.75 1264.55h5.30V1669H1436.75ZM1447.95 1261.43h5.30V1669H1447.95ZM1459.15 1292.09h5.30V1669H1459.15ZM1470.35 1286.06h5.30V1669H1470.35ZM1481.55 1211.15h5.30V1669H1481.55ZM1492.75 1263.60h5.30V1669H1492.75ZM1503.95 1360.49h5.30V1669H1503.95ZM1515.15 1279.36h5.30V1669H1515.15ZM1526.35 1262.94h5.30V1669H1526.35ZM1537.55 1281.43h5.30V1669H1537.55ZM1548.75 1328.89h5.30V1669H1548.75ZM1559.95 1250.59h5.30V1669H1559.95ZM1571.15 1284.74h5.30V1669H1571.15ZM1582.35 1364.74h5.30V1669H1582.35ZM1593.55 1332.38h5.30V1669H1593.55ZM1604.75 1395.40h5.30V1669H1604.75ZM1615.95 1414.36h5.30V1669H1615.95ZM1627.15 1388.23h5.30V1669H1627.15ZM1638.35 1285.21h5.30V1669H1638.35ZM1649.55 1266.62h5.30V1669H1649.55ZM1660.75 1399.55h5.30V1669H1660.75ZM1671.95 1313.04h5.30V1669H1671.95ZM1683.15 1155.11h5.30V1669H1683.15ZM1694.35 1281.34h5.30V1669H1694.35ZM1705.55 1309.55h5.30V1669H1705.55ZM1716.75 1216.06h5.30V1669H1716.75ZM1727.95 1197.19h5.30V1669H1727.95ZM1739.15 1249.64h5.30V1669H1739.15ZM1750.35 1146.62h5.30V1669H1750.35ZM1761.55 1118.89h5.30V1669H1761.55ZM1772.75 1077.47h5.30V1669H1772.75ZM1783.95 1188.32h5.30V1669H1783.95ZM1795.15 879.17h5.30V1669H1795.15ZM1806.35 1100.11h5.30V1669H1806.35ZM1817.55 1125.87h5.30V1669H1817.55ZM1828.75 1097.19h5.30V1669H1828.75ZM1839.95 1073.41h5.30V1669H1839.95ZM1851.15 1084.83h5.30V1669H1851.15ZM1862.35 1091.34h5.30V1669H1862.35ZM1873.55 974.92h5.30V1669H1873.55ZM1884.75 937.47h5.30V1669H1884.75ZM1895.95 1022.66h5.30V1669H1895.95ZM1907.15 959.83h5.30V1669H1907.15ZM1918.35 986.06h5.30V1669H1918.35ZM1929.55 1052.85h5.30V1669H1929.55ZM1940.75 923.13h5.30V1669H1940.75ZM1951.95 907.00h5.30V1669H1951.95ZM1963.15 989.17h5.30V1669H1963.15ZM1974.35 1031.62h5.30V1669H1974.35ZM1985.55 833.41h5.30V1669H1985.55ZM1996.75 667.09h5.30V1669H1996.75ZM2007.95 759.26h5.30V1669H2007.95ZM2019.15 720.87h5.30V1669H2019.15ZM2030.35 578.41h5.30V1669H2030.35ZM2041.55 326.81h5.30V1669H2041.55ZM2052.75 811.53h5.30V1669H2052.75ZM2063.95 483.03h5.30V1669H2063.95ZM2075.15 382.66h5.30V1669H2075.15ZM2086.35 556.62h5.30V1669H2086.35ZM2097.55 433.41h5.30V1669H2097.55ZM2108.75 376.71h5.30V1669H2108.75ZM2119.95 299.07h5.30V1669H2119.95ZM2131.15 631.53h5.30V1669H2131.15ZM2142.35 538.13h5.30V1669H2142.35ZM2153.55 560.30h5.30V1669H2153.55ZM2164.75 647.28h5.30V1669H2164.75ZM2175.95 847.94h5.30V1669H2175.95ZM2187.15 872.94h5.30V1669H2187.15ZM2198.35 834.36h5.30V1669H2198.35ZM2209.55 1056.34h5.30V1669H2209.55ZM2220.75 755.49h5.30V1669H2220.75ZM2231.95 668.70h5.30V1669H2231.95ZM2243.15 976.90h5.30V1669H2243.15ZM2254.35 747.28h5.30V1669H2254.35ZM2265.55 868.60h5.30V1669H2265.55ZM2276.75 1084.74h5.30V1669H2276.75ZM2287.95 1040.58h5.30V1669H2287.95ZM2299.15 1036.62h5.30V1669H2299.15ZM2310.35 1011.90h5.30V1669H2310.35ZM2321.55 1118.79h5.30V1669H2321.55ZM2332.75 1060.21h5.30V1669H2332.75ZM2343.95 1180.96h5.30V1669H2343.95ZM2355.15 1232.66h5.30V1669H2355.15ZM2366.35 1159.26h5.30V1669H2366.35ZM2377.55 1025.87h5.30V1669H2377.55ZM2388.75 1080.96h5.30V1669H2388.75ZM2399.95 1252.19h5.30V1669H2399.95ZM2411.15 1168.13h5.30V1669H2411.15ZM2422.35 1095.49h5.30V1669H2422.35ZM2433.55 1248.51h5.30V1669H2433.55ZM2444.75 1210.21h5.30V1669H2444.75ZM2455.95 1110.21h5.30V1669H2455.95ZM2467.15 1167.19h5.30V1669H2467.15ZM2478.35 1034.83h5.30V1669H2478.35ZM2489.55 1245.02h5.30V1669H2489.55ZM2500.75 1150.77h5.30V1669H2500.75ZM2511.95 1201.72h5.30V1669H2511.95ZM2523.15 1211.15h5.30V1669H2523.15ZM2534.35 1135.11h5.30V1669H2534.35Z" fill="#0e7f48"/><rect x="248.8" y="346.9" width="2297.7" height="4" fill="#80cff3" opacity="0.13"/><rect x="248.8" y="534.2" width="2297.7" height="4" fill="#80cff3" opacity="0.13"/><rect x="248.8" y="722.1" width="2297.7" height="4" fill="#80cff3" opacity="0.13"/><rect x="248.8" y="909.7" width="2297.7" height="4" fill="#80cff3" opacity="0.13"/><rect x="248.8" y="1101.4" width="2297.7" height="4" fill="#80cff3" opacity="0.13"/><rect x="248.8" y="1288.8" width="2297.7" height="4" fill="#80cff3" opacity="0.13"/><rect x="248.8" y="1476.8" width="2297.7" height="4" fill="#80cff3" opacity="0.13"/><line x1="249.7" y1="1303.1" x2="2530" y2="1303.1" stroke="#fff" stroke-width="8" stroke-dasharray="34 24.34"/><clipPath id="cl"><rect x="0" y="0" width="2545" height="2045"/></clipPath><polyline clip-path="url(#cl)" points="283.0,1668.6 285.8,1668.6 291.4,1668.5 297.0,1668.4 302.6,1668.3 308.2,1668.3 313.8,1667.8 319.4,1667.5 325.0,1667.2 330.6,1667.2 336.2,1666.7 341.8,1666.1 347.4,1665.0 353.0,1664.7 358.6,1663.9 364.2,1663.3 369.8,1662.7 375.4,1661.8 381.0,1661.1 386.6,1660.8 392.2,1659.6 397.8,1659.2 403.4,1658.3 409.0,1657.4 414.6,1657.4 420.2,1656.7 425.8,1656.6 431.4,1656.0 437.0,1656.1 442.6,1655.4 448.2,1654.2 453.8,1652.4 459.4,1651.5 465.0,1648.4 470.6,1648.1 476.2,1645.1 481.8,1642.2 487.4,1640.9 493.0,1640.4 498.6,1639.3 504.2,1638.7 509.8,1636.2 515.4,1636.3 521.0,1637.2 526.6,1639.0 532.2,1637.8 537.8,1637.9 543.4,1638.3 549.0,1637.9 554.6,1636.9 560.2,1637.6 565.8,1637.2 571.4,1636.7 577.0,1635.8 582.6,1636.0 588.2,1636.0 593.8,1637.4 599.4,1636.4 605.0,1634.0 610.6,1633.0 616.2,1632.8 621.8,1632.9 627.4,1634.2 633.0,1630.9 638.6,1630.4 644.2,1632.6 649.8,1632.6 655.4,1628.3 661.0,1625.2 666.6,1623.1 672.2,1623.1 677.8,1621.8 683.4,1618.2 689.0,1618.2 694.6,1618.1 700.2,1612.7 705.8,1610.7 711.4,1605.1 717.0,1604.6 722.6,1604.8 728.2,1605.8 733.8,1605.9 739.4,1609.7 745.0,1609.1 750.6,1614.4 756.2,1612.1 761.8,1612.2 767.4,1609.6 773.0,1609.6 778.6,1611.0 784.2,1610.7 789.8,1604.8 795.4,1605.2 801.0,1600.1 806.6,1594.2 812.2,1586.7 817.8,1581.4 823.4,1575.9 829.0,1575.6 834.6,1573.1 840.2,1570.8 845.8,1570.0 851.4,1572.8 857.0,1568.1 862.6,1569.0 868.2,1566.2 873.8,1566.1 879.4,1566.9 885.0,1567.7 890.6,1566.6 896.2,1568.6 901.8,1564.0 907.4,1564.4 913.0,1561.4 918.6,1556.8 924.2,1556.4 929.8,1552.8 935.4,1546.7 941.0,1547.9 946.6,1544.5 952.2,1537.4 957.8,1538.6 963.4,1536.1 969.0,1529.8 974.6,1515.8 980.2,1511.7 985.8,1508.6 991.4,1507.6 997.0,1506.7 1002.6,1502.3 1008.2,1506.8 1013.8,1521.4 1019.4,1523.4 1025.0,1522.3 1030.6,1522.9 1036.2,1517.3 1041.8,1516.4 1047.4,1511.6 1053.0,1507.1 1058.6,1503.1 1064.2,1501.5 1069.8,1503.5 1075.4,1505.8 1081.0,1504.5 1086.6,1497.8 1092.2,1497.8 1097.8,1494.1 1103.4,1498.2 1109.0,1497.9 1114.6,1495.8 1120.2,1493.4 1125.8,1501.1 1131.4,1501.4 1137.0,1495.5 1142.6,1485.9 1148.2,1480.8 1153.8,1480.7 1159.4,1483.8 1165.0,1482.1 1170.6,1479.2 1176.2,1481.4 1181.8,1480.5 1187.4,1478.0 1193.0,1476.2 1198.6,1476.4 1204.2,1477.0 1209.8,1474.7 1215.4,1476.2 1221.0,1479.6 1226.6,1482.4 1232.2,1479.5 1237.8,1469.0 1243.4,1463.6 1249.0,1457.5 1254.6,1446.6 1260.2,1430.2 1265.8,1417.0 1271.4,1407.5 1277.0,1403.0 1282.6,1392.7 1288.2,1380.5 1293.8,1376.9 1299.4,1379.3 1305.0,1371.4 1310.6,1369.6 1316.2,1365.9 1321.8,1362.8 1327.4,1359.6 1333.0,1353.3 1338.6,1344.2 1344.2,1341.6 1349.8,1338.1 1355.4,1331.8 1361.0,1323.0 1366.6,1326.0 1372.2,1324.0 1377.8,1319.1 1383.4,1314.3 1389.0,1300.4 1394.6,1292.8 1400.2,1286.0 1405.8,1272.6 1411.4,1260.0 1417.0,1255.6 1422.6,1257.1 1428.2,1266.1 1433.8,1267.1 1439.4,1269.5 1445.0,1275.7 1450.6,1282.5 1456.2,1289.1 1461.8,1287.5 1467.4,1286.0 1473.0,1285.2 1478.6,1281.8 1484.2,1272.7 1489.8,1275.7 1495.4,1271.9 1501.0,1265.0 1506.6,1269.8 1512.2,1271.9 1517.8,1277.4 1523.4,1283.3 1529.0,1280.5 1534.6,1280.4 1540.2,1285.7 1545.8,1284.3 1551.4,1288.4 1557.0,1286.5 1562.6,1286.2 1568.2,1285.3 1573.8,1288.4 1579.4,1293.4 1585.0,1295.5 1590.6,1296.6 1596.2,1306.0 1601.8,1317.8 1607.4,1337.6 1613.0,1350.1 1618.6,1364.1 1624.2,1372.2 1629.8,1379.6 1635.4,1382.4 1641.0,1375.6 1646.6,1363.7 1652.2,1348.6 1657.8,1332.7 1663.4,1329.5 1669.0,1318.7 1674.6,1313.1 1680.2,1311.6 1685.8,1289.2 1691.4,1275.6 1697.0,1272.5 1702.6,1263.3 1708.2,1262.9 1713.8,1256.3 1719.4,1247.8 1725.0,1256.6 1730.6,1260.3 1736.2,1256.9 1741.8,1244.7 1747.4,1239.5 1753.0,1222.4 1758.6,1220.8 1764.2,1206.8 1769.8,1201.2 1775.4,1175.5 1781.0,1173.1 1786.6,1161.0 1792.2,1161.0 1797.8,1114.5 1803.4,1114.8 1809.0,1106.6 1814.6,1109.0 1820.2,1093.7 1825.8,1091.0 1831.4,1083.9 1837.0,1115.4 1842.6,1108.5 1848.2,1103.7 1853.8,1102.3 1859.4,1105.9 1865.0,1094.7 1870.6,1085.8 1876.2,1068.0 1881.8,1062.8 1887.4,1044.5 1893.0,1033.8 1898.6,1015.5 1904.2,1012.4 1909.8,1001.8 1915.4,1003.9 1921.0,996.5 1926.6,1010.4 1932.2,1016.5 1937.8,1029.9 1943.4,1009.0 1949.0,1002.4 1954.6,990.6 1960.2,979.3 1965.8,972.8 1971.4,968.1 1977.0,956.0 1982.6,962.1 1988.2,950.7 1993.8,933.9 1999.4,899.6 2005.0,861.2 2010.6,824.0 2016.2,797.9 2021.8,762.8 2027.4,730.1 2033.0,700.0 2038.6,670.3 2044.2,614.0 2049.8,591.8 2055.4,586.5 2061.0,582.2 2066.6,564.9 2072.2,562.9 2077.8,551.9 2083.4,579.3 2089.0,572.6 2094.6,560.3 2100.2,523.5 2105.8,531.9 2111.4,505.1 2117.0,502.8 2122.6,471.4 2128.2,468.5 2133.8,455.1 2139.4,492.1 2145.0,491.6 2150.6,522.1 2156.2,549.7 2161.8,581.6 2167.4,597.4 2173.0,634.5 2178.6,656.7 2184.2,699.9 2189.8,740.3 2195.4,765.7 2201.0,810.3 2206.6,865.1 2212.2,888.7 2217.8,870.9 2223.4,858.8 2229.0,850.5 2234.6,840.6 2240.2,851.6 2245.8,843.8 2251.4,794.2 2257.0,797.6 2262.6,826.1 2268.2,833.8 2273.8,865.8 2279.4,890.7 2285.0,914.5 2290.6,961.9 2296.2,1016.6 2301.8,1028.2 2307.4,1044.7 2313.0,1061.7 2318.6,1067.5 2324.2,1063.9 2329.8,1060.9 2335.4,1051.0 2341.0,1065.6 2346.6,1093.7 2352.2,1101.2 2357.8,1116.5 2363.4,1131.5 2369.0,1151.4 2374.6,1163.6 2380.2,1147.4 2385.8,1128.6 2391.4,1131.0 2397.0,1117.3 2402.6,1121.4 2408.2,1117.0 2413.8,1120.3 2419.4,1141.7 2425.0,1148.3 2430.6,1165.4 2436.2,1181.3 2441.8,1185.6 2447.4,1197.3 2453.0,1205.8 2458.6,1196.5 2464.2,1195.9 2469.8,1191.1 2475.4,1192.8 2481.0,1157.5 2486.6,1173.1 2492.2,1175.5 2497.8,1190.3 2503.4,1198.8 2509.0,1199.7 2514.6,1191.3 2520.2,1226.2 2525.8,1210.7 2531.4,1199.7 2537.0,1188.5 2542.6,1179.2" fill="none" stroke="#ffe01a" stroke-width="12.5" stroke-linejoin="round" stroke-linecap="butt"/><rect x="2529.8" y="1081.8" width="16" height="587.2" fill="#f69a20"/><rect x="249" y="1665.4" width="2297" height="7.6" fill="#fff"/><rect x="250.0" y="1670" width="5" height="27.6" fill="#fff"/><rect x="417.1" y="1670" width="5" height="27.6" fill="#fff"/><rect x="584.7" y="1670" width="5" height="27.6" fill="#fff"/><rect x="758.7" y="1670" width="5" height="27.6" fill="#fff"/><rect x="929.7" y="1670" width="5" height="27.6" fill="#fff"/><rect x="1100.0" y="1670" width="5" height="27.6" fill="#fff"/><rect x="1274.7" y="1670" width="5" height="27.6" fill="#fff"/><rect x="1445.8" y="1670" width="5" height="27.6" fill="#fff"/><rect x="1616.1" y="1670" width="5" height="27.6" fill="#fff"/><rect x="1787.1" y="1670" width="5" height="27.6" fill="#fff"/><rect x="1958.3" y="1670" width="5" height="27.6" fill="#fff"/><rect x="2132.8" y="1670" width="5" height="27.6" fill="#fff"/><rect x="2291.9" y="1670" width="5" height="27.6" fill="#fff"/><rect x="2535.8" y="1670" width="5" height="27.6" fill="#fff"/><rect x="848.4" y="1252.5" width="3.6" height="44.5" fill="#fff"/><path d="M745.8 1604 C745.6 1589 738 1576 716 1566.6" fill="none" stroke="#ffe01a" stroke-width="1.8"/><path d="M703.7 1563.3 L721.2 1561.9 L717.8 1567.3 L718.2 1572.4 Z" fill="#ffe01a"/><path d="M2560.9 802 H2856.5 V1008.9 H2672.6 L2562.6 1070.8 L2591.8 1008.9 H2560.9 Z" fill="#f26522"/><path d="M2441 1914.8 H2655.2 V1987.4 H2441 Q2434.2 1987.4 2434.2 1980.6 V1921.6 Q2434.2 1914.8 2441 1914.8 Z" fill="#dd1f26"/><path d="M2655.2 1915.3 H2834.6 Q2840.9 1915.3 2840.9 1921.6 V1980.6 Q2840.9 1986.9 2834.6 1986.9 H2655.2 Z" fill="#fff" stroke="#dd1f26" stroke-width="1"/><g fill="#231f20"><path d="M2705.9 1934.9 H2680 C2671.5 1934.9 2671.5 1947.2 2681.5 1949 L2697.5 1953.6 C2706 1956 2705.5 1967.3 2696.5 1967.3 H2671" fill="none" stroke="#231f20" stroke-width="8.2" stroke-linejoin="round"/><path d="M2708.2 1971.4 L2724.2 1932.3 Q2724.8 1931 2726 1931 H2736.4 L2753.7 1971.4 H2744.3 L2730.2 1940.4 L2717.6 1971.4 Z"/><rect x="2747" y="1931" width="39.2" height="8.6"/><rect x="2761.9" y="1931" width="9.8" height="40.4"/><path d="M2795 1931 V1953.3 A14.05 14.05 0 0 0 2823.1 1953.3 V1931" fill="none" stroke="#231f20" stroke-width="9.8"/></g></svg>
<div class="t" style="left:119.25px;top:97.72px;font-weight:bold;color:#fff;transform:scale(0.9495,0.9362)">Kasus</div><div class="t" style="left:427.05px;top:97.72px;font-weight:bold;color:#fff;transform:scale(0.9369,0.9362)">Covid-19</div><div class="t" style="left:852.18px;top:97.72px;font-weight:bold;color:#fff;transform:scale(1.0178,0.9362)">Harian</div><div class="t" style="left:1193.48px;top:97.72px;font-weight:bold;color:#fff;transform:scale(1.0551,0.9362)">di</div><div class="t" style="left:1311.93px;top:97.72px;font-weight:bold;color:#fff;transform:scale(0.9959,0.9362)">Indonesia</div><div class="t" style="left:1808.37px;top:97.72px;font-weight:bold;color:#fff;transform:scale(0.9565,0.9362)">s.d.</div><div class="t" style="left:1990.59px;top:97.72px;font-weight:bold;color:#fff;transform:scale(0.8520,0.9362)">15</div><div class="t" style="left:2107.94px;top:97.72px;font-weight:bold;color:#fff;transform:scale(1.0206,0.9362)">April</div><div class="t" style="left:2365.00px;top:97.72px;font-weight:bold;color:#fff;transform:scale(0.8991,0.9362)">2021</div><div class="t" style="left:45.65px;top:323.46px;font-weight:bold;color:#fff;transform:scale(0.5757,0.4958)">14.000</div><div class="t" style="left:45.75px;top:509.78px;font-weight:bold;color:#fff;transform:scale(0.5584,0.5014)">12.000</div><div class="t" style="left:45.97px;top:696.78px;font-weight:bold;color:#fff;transform:scale(0.5713,0.4944)">10.000</div><div class="t" style="left:76.28px;top:883.08px;font-weight:bold;color:#fff;transform:scale(0.6062,0.4944)">8.000</div><div class="t" style="left:75.49px;top:1077.74px;font-weight:bold;color:#fff;transform:scale(0.6029,0.4972)">6.000</div><div class="t" style="left:77.29px;top:1260.00px;font-weight:bold;color:#fff;transform:scale(0.6053,0.5000)">4.000</div><div class="t" style="left:75.62px;top:1450.56px;font-weight:bold;color:#fff;transform:scale(0.5926,0.4958)">2.000</div><div class="t" style="left:186.46px;top:1641.47px;font-weight:bold;color:#fff;transform:scale(0.6354,0.4887)">0</div><div class="t" style="left:160.91px;top:1733.39px;font-weight:normal;color:#fff;-webkit-text-stroke:2.2px #fff;transform:scale(0.5237,0.4722)">2 MAR</div><div class="t" style="left:180.41px;top:1792.11px;font-weight:normal;color:#fff;-webkit-text-stroke:2.2px #fff;transform:scale(0.5481,0.4562)">2020</div><div class="t" style="left:371.50px;top:1733.39px;font-weight:normal;color:#fff;-webkit-text-stroke:2.2px #fff;transform:scale(0.5049,0.4722)">APR</div><div class="t" style="left:545.27px;top:1732.82px;font-weight:normal;color:#fff;-webkit-text-stroke:2.2px #fff;transform:scale(0.5325,0.4789)">MEI</div><div class="t" style="left:714.00px;top:1732.92px;font-weight:normal;color:#fff;-webkit-text-stroke:2.2px #fff;transform:scale(0.5337,0.4722)">JUN</div><div class="t" style="left:890.50px;top:1732.92px;font-weight:normal;color:#fff;-webkit-text-stroke:2.2px #fff;transform:scale(0.5256,0.4722)">JUL</div><div class="t" style="left:1054.19px;top:1732.48px;font-weight:normal;color:#fff;-webkit-text-stroke:2.2px #fff;transform:scale(0.4904,0.4658)">AGS</div><div class="t" style="left:1231.53px;top:1732.48px;font-weight:normal;color:#fff;-webkit-text-stroke:2.2px #fff;transform:scale(0.4907,0.4658)">SEP</div><div class="t" style="left:1393.94px;top:1728.96px;font-weight:normal;color:#fff;-webkit-text-stroke:2.2px #fff;transform:scale(0.5150,0.4671)">OKT</div><div class="t" style="left:1563.92px;top:1732.48px;font-weight:normal;color:#fff;-webkit-text-stroke:2.2px #fff;transform:scale(0.5261,0.4658)">NOV</div><div class="t" style="left:1748.07px;top:1733.67px;font-weight:normal;color:#fff;-webkit-text-stroke:2.2px #fff;transform:scale(0.5046,0.4521)">DES</div><div class="t" style="left:1916.60px;top:1733.12px;font-weight:normal;color:#fff;-webkit-text-stroke:2.2px #fff;transform:scale(0.5385,0.4583)">JAN</div><div class="t" style="left:1912.68px;top:1781.67px;font-weight:normal;color:#fff;-webkit-text-stroke:2.2px #fff;transform:scale(0.4795,0.4521)">2021</div><div class="t" style="left:2087.40px;top:1729.92px;font-weight:normal;color:#fff;-webkit-text-stroke:2.2px #fff;transform:scale(0.5137,0.4718)">FEB</div><div class="t" style="left:2235.28px;top:1728.47px;font-weight:normal;color:#fff;-webkit-text-stroke:2.2px #fff;transform:scale(0.5316,0.4667)">MAR</div><div class="t" style="left:2456.52px;top:1731.38px;font-weight:normal;color:#fff;-webkit-text-stroke:2.2px #fff;transform:scale(0.4967,0.4726)">15 APR</div><div class="t" style="left:678.58px;top:1209.02px;font-weight:normal;color:#fff;transform:scale(0.4651,0.4739)">Rata-rata harian</div><div class="t" style="left:452.77px;top:1499.23px;font-weight:bold;color:#ffe01a;transform:scale(0.5185,0.4609)">Rata-rata</div><div class="t" style="left:320.78px;top:1554.03px;font-weight:bold;color:#ffe01a;transform:scale(0.5176,0.4609)">bergerak 7 hari</div><div class="t" style="left:2572.14px;top:835.93px;font-weight:bold;color:#fff;transform:scale(0.4087,0.4043)">KASUS BARU</div><div class="t" style="left:2609.11px;top:892.05px;font-weight:bold;color:#fff;transform:scale(0.7963,0.7901)">6.177</div><div class="t" style="left:50.25px;top:1925.03px;font-weight:bold;color:#fff;transform:scale(0.5181,0.5043)">SUMBER:</div><div class="t" style="left:302.82px;top:1925.03px;font-weight:bold;color:#fff;transform:scale(0.5256,0.5043)">KEMENTERIAN</div><div class="t" style="left:702.15px;top:1925.03px;font-weight:bold;color:#fff;transform:scale(0.5209,0.5043)">KESEHATAN,</div><div class="t" style="left:1045.80px;top:1925.03px;font-weight:bold;color:#fff;transform:scale(0.5148,0.5043)">BERITASATU</div><div class="t" style="left:1385.96px;top:1925.03px;font-weight:bold;color:#fff;transform:scale(0.5064,0.5043)">RESEARCH</div><div class="t" style="left:2445.19px;top:1922.88px;font-weight:bold;color:#fff;-webkit-text-stroke:3.7px #fff;transform:scale(0.5418,0.5589)">BERITA</div>
</body></html>
